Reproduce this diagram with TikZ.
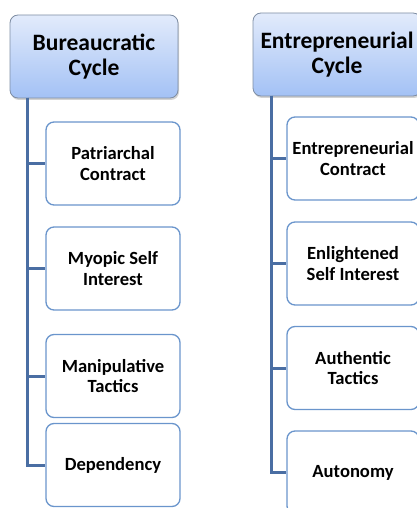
\documentclass[tikz,border=0pt]{standalone}
\usepackage{fontspec}
\setmainfont{Carlito}
\usetikzlibrary{shadows}
\definecolor{hdtop}{HTML}{E2EBFB}
\definecolor{hdbot}{HTML}{A3C1F5}
\definecolor{hdborder}{HTML}{7E8DA3}
\definecolor{chborder}{HTML}{6A95CC}
\definecolor{conncol}{HTML}{4A6EA3}
\tikzset{
  header/.style={draw=hdborder, line width=0.8pt, rounded corners=8pt,
    top color=hdtop, bottom color=hdbot, minimum width=168pt, minimum height=83pt,
    align=center, font=\bfseries\fontsize{23.5}{25}\selectfont,
    drop shadow={shadow xshift=1pt, shadow yshift=-2pt, opacity=0.35}},
  child/.style={draw=chborder, line width=1.3pt, rounded corners=8pt, fill=white,
    minimum height=83pt, align=center, font=\bfseries\fontsize{18.6}{20.5}\selectfont},
  conn/.style={draw=conncol, line width=3pt}
}
\begin{document}
\begin{tikzpicture}[x=1pt,y=1pt]
\useasboundingbox (0,0) rectangle (417,-508);
\clip (0,0) rectangle (417,-508);
% left column
\node[header] (lh) at (94,-56.5) {Bureaucratic\\Cycle};
\node[child, minimum width=134pt] (l1) at (113,-163.5) {Patriarchal\\Contract};
\node[child, minimum width=134pt] (l2) at (113,-268.5) {Myopic Self\\Interest};
\node[child, minimum width=134pt] (l3) at (113,-376) {Manipulative\\Tactics};
\node[child, minimum width=134pt] (l4) at (113,-465) {Dependency};
\coordinate (ltop) at (27.5,-98);
\draw[conn] (ltop) |- (l4.west);
\draw[conn] (ltop) |- (l1.west);
\draw[conn] (ltop) |- (l2.west);
\draw[conn] (ltop) |- (l3.west);
% right column
\node[header] (rh) at (337,-54.5) {Entrepreneurial\\Cycle};
\node[child, minimum width=132pt] (r1) at (353,-158.5) {Entrepreneurial\\Contract};
\node[child, minimum width=132pt] (r2) at (353,-263.5) {Enlightened\\Self Interest};
\node[child, minimum width=132pt] (r3) at (353,-368) {Authentic\\Tactics};
\node[child, minimum width=132pt] (r4) at (353,-472.5) {Autonomy};
\coordinate (rtop) at (271,-96);
\draw[conn] (rtop) |- (r4.west);
\draw[conn] (rtop) |- (r1.west);
\draw[conn] (rtop) |- (r2.west);
\draw[conn] (rtop) |- (r3.west);
\end{tikzpicture}
\end{document}
